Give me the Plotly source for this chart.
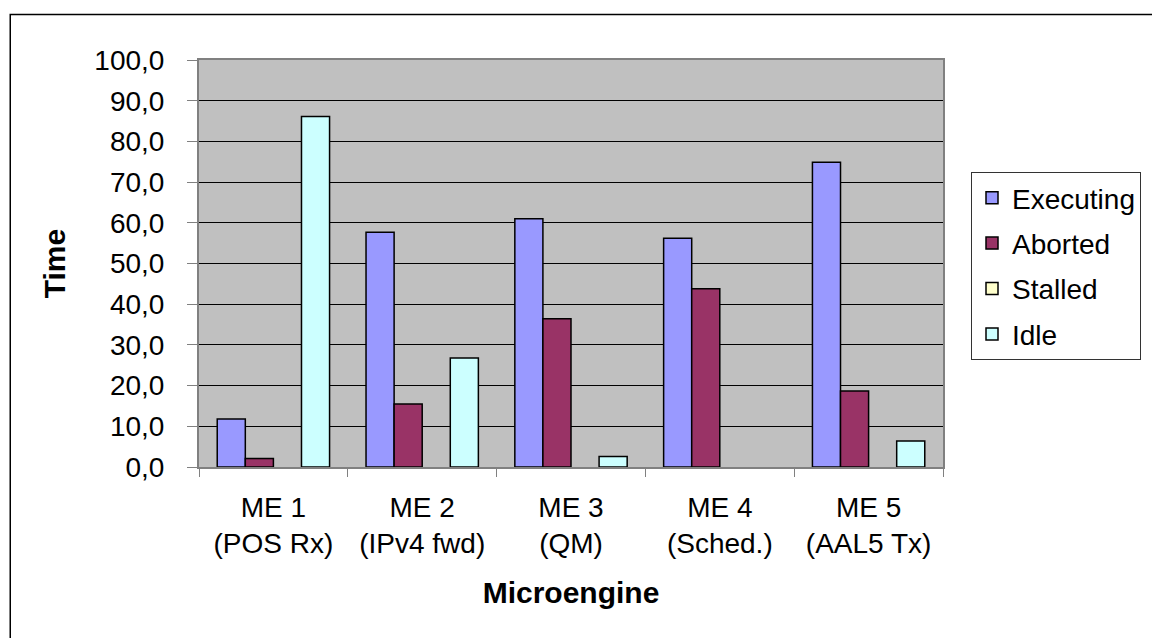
import plotly.graph_objects as go

categories = ["ME 1<br>(POS Rx)", "ME 2<br>(IPv4 fwd)", "ME 3<br>(QM)", "ME 4<br>(Sched.)", "ME 5<br>(AAL5 Tx)"]
executing = [11.8, 57.7, 61.0, 56.2, 74.9]
aborted = [2.1, 15.5, 36.4, 43.8, 18.7]
stalled = [0.0, 0.0, 0.0, 0.0, 0.0]
idle = [86.1, 26.8, 2.6, 0.0, 6.4]

series = [
    ("Executing", executing, "#9999FF"),
    ("Aborted", aborted, "#993366"),
    ("Stalled", stalled, "#FFFFCC"),
    ("Idle", idle, "#CCFFFF"),
]

FONT = "Liberation Sans, Arial, sans-serif"

fig = go.Figure()
for name, vals, color in series:
    fig.add_trace(go.Bar(
        x=categories, y=[v if v > 0 else None for v in vals], name=name, legendgroup=name,
        marker=dict(color=color, line=dict(color="black", width=1.5)),
        showlegend=True,
    ))

W, H = 1152, 638
L, R, T, B = 199, 208, 60, 171
pw = W - L - R
ph = H - T - B

def px_x(x):
    return (x - L) / pw

def px_y(y):
    return (H - B - y) / ph

fig.update_layout(
    width=W, height=H,
    margin=dict(l=L, r=R, t=T, b=B, pad=0),
    paper_bgcolor="white",
    plot_bgcolor="#C0C0C0",
    barmode="group",
    bargap=0.245,
    bargroupgap=0,
    separators=", ",
    font=dict(family=FONT, size=28, color="black"),
    showlegend=True,
    legend=dict(
        x=px_x(971), y=px_y(172), xanchor="left", yanchor="top",
        bordercolor="#333333", borderwidth=1, bgcolor="white",
        font=dict(family=FONT, size=28, color="black"),
        traceorder="grouped", tracegroupgap=6,
    ),
    xaxis=dict(
        type="category",
        showline=True, linecolor="#808080", linewidth=2,
        ticks="outside", tickson="boundaries", ticklen=8, tickcolor="#808080",
        tickfont=dict(family=FONT, size=28),
        ticklabelstandoff=14,
        mirror=True,
        title=dict(text="<b>Microengine</b>", font=dict(family=FONT, size=30), standoff=24),
    ),
    yaxis=dict(
        range=[0, 100], dtick=10, tickformat=".1f",
        showgrid=True, gridcolor="black", gridwidth=1,
        showline=True, linecolor="#808080", linewidth=2, mirror=True,
        ticks="outside", ticklen=10, tickcolor="#808080",
        tickfont=dict(family=FONT, size=28),
        ticklabelstandoff=17,
        zeroline=False,
        title=dict(text="<b>Time</b>", font=dict(family=FONT, size=30), standoff=20),
    ),
    shapes=[dict(
        type="rect", xref="paper", yref="paper",
        x0=px_x(10), y0=px_y(700), x1=px_x(1200), y1=px_y(14.5),
        line=dict(color="black", width=1.5), fillcolor="rgba(0,0,0,0)", layer="below",
    )],
)

fig.write_html("out.html")
